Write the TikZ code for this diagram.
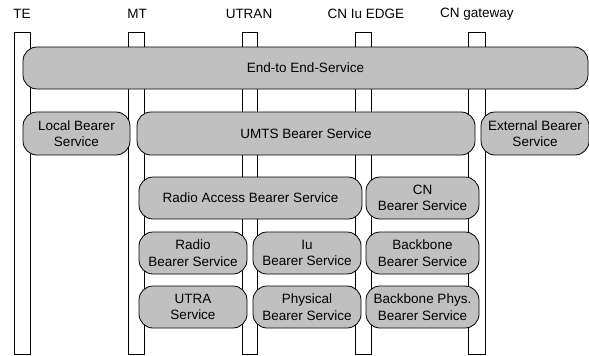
\documentclass[tikz,border=0pt]{standalone}
\usepackage{fontspec}
\setmainfont{Liberation Sans}
\definecolor{svcgray}{RGB}{192,192,192}
\tikzset{
  svc/.style={draw=black, line width=0.8pt, fill=svcgray, rounded corners=14pt,
    align=center, inner sep=0pt, font=\fontsize{13.5}{16.5}\selectfont},
  entity/.style={font=\fontsize{13.5}{16.5}\selectfont, inner sep=0pt},
  pillar/.style={draw=black, line width=0.8pt, fill=white}
}
\begin{document}
\begin{tikzpicture}[x=1pt,y=-1pt]
  \useasboundingbox (0,0) rectangle (589,356);
  \clip (0,0) rectangle (589,356);
  %%%%% entities %%%%%
  \node[entity] (te)   at (22,14)  {TE};
  \node[entity] (mt)   at (137,14) {MT};
  \node[entity] (utran) at (249,14) {UTRAN};
  \node[entity] (edge) at (366,14) {CN Iu EDGE};
  \node[entity] (gw)   at (477,14) {CN gateway};

  \draw[pillar] (14,32) rectangle (30,354);
  \draw[pillar] (128,32) rectangle (144,354);
  \draw[pillar] (242,32) rectangle (257,354);
  \draw[pillar] (355,32) rectangle (371,354);
  \draw[pillar] (468,32) rectangle (485,354);

  %%%%% services %%%%%
  \node[svc, minimum width=565, minimum height=42] (e2e) at (305.5,68) {End-to End-Service};

  \node[svc, minimum width=107, minimum height=43] (local) at (76.5,133.5) {Local Bearer\\Service};
  \node[svc, minimum width=338, minimum height=43] (umts) at (306,133.5) {UMTS Bearer Service};
  \node[svc, minimum width=108, minimum height=43] (ext) at (535,133.5) {External Bearer\\Service};

  \node[svc, minimum width=223, minimum height=42] (rab) at (250.5,198) {Radio Access Bearer Service};
  \node[svc, minimum width=113, minimum height=42] (cnb) at (422.5,198) {CN\\Bearer Service};

  \node[svc, minimum width=108, minimum height=42] (rb) at (193,253) {Radio\\Bearer Service};
  \node[svc, minimum width=108, minimum height=42] (iub) at (307,253) {Iu\\Bearer Service};
  \node[svc, minimum width=113, minimum height=42] (bb) at (422.5,253) {Backbone\\Bearer Service};

  \node[svc, minimum width=108, minimum height=42] (utra) at (193,307) {UTRA\\Service};
  \node[svc, minimum width=108, minimum height=42] (phy) at (307,307) {Physical\\Bearer Service};
  \node[svc, minimum width=113, minimum height=42] (bbphy) at (422.5,307) {Backbone Phys.\\Bearer Service};
\end{tikzpicture}
\end{document}
